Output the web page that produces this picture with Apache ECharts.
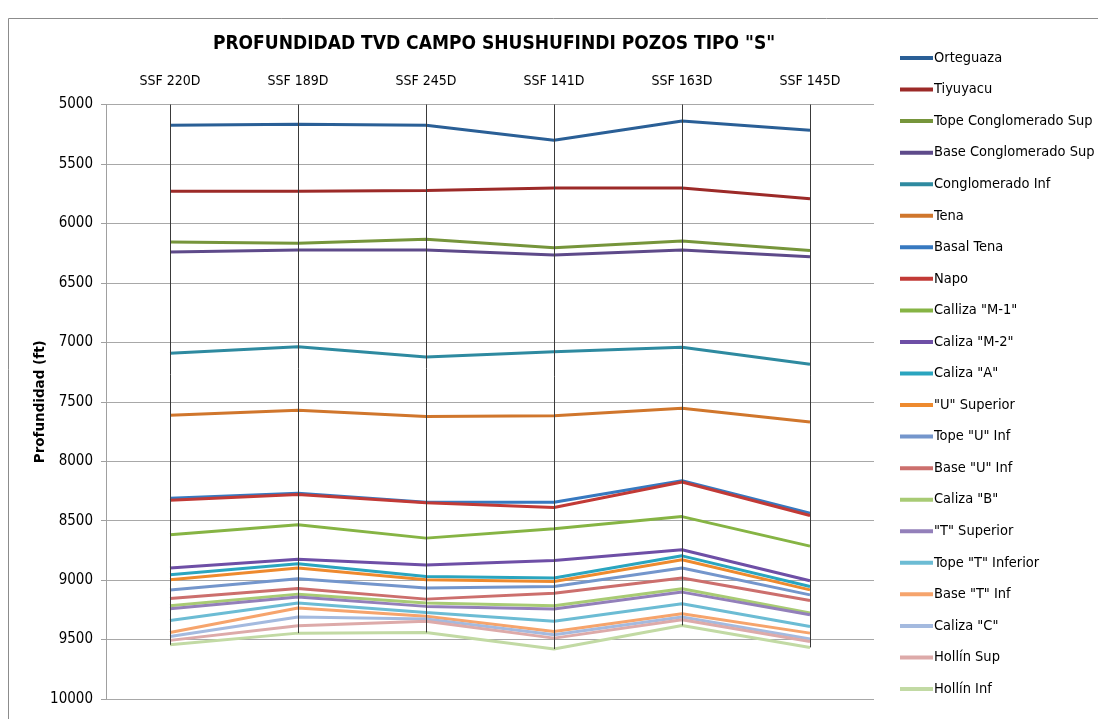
<!DOCTYPE html>
<html><head><meta charset="utf-8">
<script src="https://cdn.jsdelivr.net/npm/echarts@6/dist/echarts.min.js"></script>
<style>html,body{margin:0;padding:0;background:#fff}#c{width:1098px;height:719px}</style>
</head><body><div id="c"></div>
<script>
const titleText = 'PROFUNDIDAD TVD CAMPO SHUSHUFINDI POZOS TIPO "S"';
const yAxisName = 'Profundidad (ft)';
const categories = ['SSF 220D','SSF 189D','SSF 245D','SSF 141D','SSF 163D','SSF 145D'];
const seriesNames = ['Orteguaza','Tiyuyacu','Tope Conglomerado Sup','Base Conglomerado Sup','Conglomerado Inf','Tena','Basal Tena','Napo','Calliza "M-1"','Caliza "M-2"','Caliza "A"','"U" Superior','Tope "U" Inf','Base "U" Inf','Caliza "B"','"T" Superior','Tope "T" Inferior','Base "T" Inf','Caliza "C"','Hollín Sup','Hollín Inf'];
const orteguaza      = [5174,5166,5174,5300,5138,5216];
const tiyuyacu       = [5729,5729,5723,5703,5703,5793];
const topeCongSup    = [6157,6166,6134,6205,6149,6227];
const baseCongSup    = [6241,6224,6224,6266,6224,6280];
const congInf        = [7092,7037,7124,7079,7042,7185];
const tena           = [7613,7571,7625,7617,7555,7670];
const basalTena      = [8311,8269,8345,8345,8165,8437];
const napo           = [8328,8281,8350,8390,8175,8457];
const callizaM1      = [8619,8535,8647,8569,8466,8714];
const calizaM2       = [8899,8824,8874,8835,8745,9006];
const calizaA        = [8955,8862,8970,8983,8796,9054];
const uSuperior      = [8998,8899,8998,9012,8829,9082];
const topeUInf       = [9084,8989,9067,9054,8899,9124];
const baseUInf       = [9155,9070,9160,9110,8983,9171];
const calizaB        = [9216,9118,9193,9216,9073,9277];
const tSuperior      = [9241,9143,9221,9244,9101,9291];
const topeTInferior  = [9339,9193,9272,9347,9199,9390];
const baseTInf       = [9440,9235,9305,9432,9283,9446];
const calizaC        = [9474,9311,9328,9460,9311,9496];
const hollinSup      = [9507,9384,9347,9488,9333,9517];
const hollinInf      = [9544,9446,9440,9580,9381,9566];
const yTicks = [5000,5500,6000,6500,7000,7500,8000,8500,9000,9500,10000];

const allData = [orteguaza,tiyuyacu,topeCongSup,baseCongSup,congInf,tena,basalTena,napo,callizaM1,calizaM2,calizaA,uSuperior,topeUInf,baseUInf,calizaB,tSuperior,topeTInferior,baseTInf,calizaC,hollinSup,hollinInf];
const colors = ['#2A5F96','#9C2A28','#76953B','#5E4A8A','#2E8AA0','#D0762C','#3779C0','#C23A36','#86B444','#6E4FA6','#2AA5BF','#EE8A2E','#7496CC','#CC6F6D','#A8CB74','#9380BA','#6CBCD4','#F6A46C','#A4BADF','#DDAAA9','#C2DAA4'];

const font = '"DejaVu Sans Condensed","Liberation Sans",sans-serif';

const series = seriesNames.map((n,i)=>({
  name:n, type:'line', data:allData[i], symbol:'none', smooth:false,
  lineStyle:{width:3,color:colors[i]}, itemStyle:{color:colors[i]}, z:3
}));
// drop lines from top axis to deepest formation in each well
const deepest = categories.map((c,k)=>Math.max(...allData.map(a=>a[k])));
series.push({
  type:'line', data:[], silent:true, z:2,
  markLine:{symbol:'none', silent:true, label:{show:false},
    lineStyle:{color:'#3a3a3a',width:1,type:'solid'},
    data:categories.map((c,k)=>[{coord:[c,yTicks[0]]},{coord:[c,deepest[k]]}])}
});

const chart = echarts.init(document.getElementById('c'),null,{renderer:'canvas'});
chart.setOption({
  animation:false,
  backgroundColor:'#fff',
  color:colors,
  graphic:[{type:'rect',shape:{x:8.5,y:18.5,width:1200,height:800},style:{fill:'none',stroke:'#8c8c8c',lineWidth:1},z:-1}],
  title:{text:titleText,left:489,top:30,textAlign:'center',
    textStyle:{fontFamily:font,fontWeight:'bold',fontSize:19,color:'#000'}},
  legend:{orient:'vertical',left:895,top:45,itemWidth:33,itemHeight:4,itemGap:15.55,icon:'rect',
    data:seriesNames,
    textStyle:{fontFamily:font,fontSize:14.5,color:'#000',lineHeight:16,padding:[0,0,0,-4]}},
  grid:{left:106,right:224,top:104.5,bottom:20},
  xAxis:{type:'category',data:categories,position:'top',boundaryGap:true,
    axisLine:{show:false},axisTick:{show:false},
    axisLabel:{fontFamily:font,fontSize:14,color:'#000',margin:16}},
  yAxis:{type:'value',inverse:true,min:5000,max:10000,interval:500,
    name:yAxisName,nameLocation:'middle',nameGap:59,nameRotate:90,nameMoveOverlap:false,
    nameTextStyle:{fontFamily:'"DejaVu Sans","Liberation Sans",sans-serif',fontWeight:'bold',fontSize:13.5,color:'#000'},
    axisLine:{show:true,lineStyle:{color:'#a0a0a0'}},
    axisTick:{show:true,length:5,lineStyle:{color:'#a0a0a0'}},
    axisLabel:{fontFamily:font,fontSize:15,color:'#000',margin:13,formatter:v=>String(v)},
    splitLine:{show:true,lineStyle:{color:'#a8a8a8',width:1}}},
  series:series
});
</script></body></html>
